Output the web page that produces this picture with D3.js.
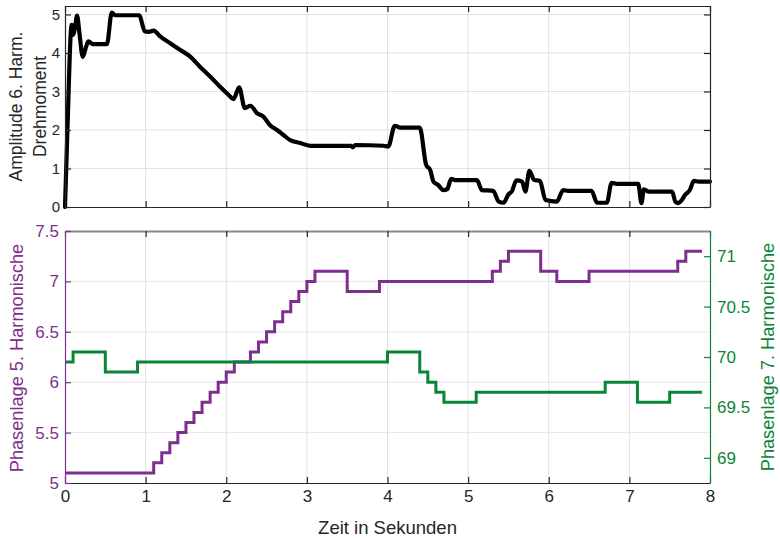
<!DOCTYPE html>
<html>
<head>
<meta charset="utf-8">
<script src="https://cdn.jsdelivr.net/npm/d3@7"></script>
<style>
  html, body { margin: 0; padding: 0; background: #ffffff; }
  svg { display: block; font-family: "Liberation Sans", Arial, Helvetica, sans-serif; }
</style>
</head>
<body>
<svg id="chart" width="780" height="538"></svg>
<script>
// Amplitude of the 6th torque harmonic over time
const ampTime = [0, 0.03, 0.083, 0.10, 0.12, 0.15, 0.18, 0.22, 0.26, 0.29, 0.35, 0.52, 0.58, 0.62, 0.64, 0.92,
  0.99, 1.04, 1.10, 1.18, 1.30, 1.43, 1.55, 1.67, 1.80, 1.92, 2.03, 2.09, 2.16, 2.23, 2.30, 2.38, 2.46,
  2.54, 2.63, 2.71, 2.79, 2.92, 3.04, 3.16, 3.55, 3.57, 3.60, 3.95, 4.01, 4.09, 4.16, 4.40, 4.48, 4.53,
  4.57, 4.63, 4.69, 4.74, 4.79, 4.84, 5.11, 5.17, 5.31, 5.38, 5.44, 5.50, 5.54, 5.60, 5.67, 5.71, 5.76,
  5.82, 5.89, 5.96, 6.10, 6.18, 6.24, 6.53, 6.60, 6.72, 6.78, 6.84, 7.11, 7.15, 7.18, 7.24, 7.53, 7.57,
  7.61, 7.65, 7.69, 7.75, 7.80, 7.86, 8.00];
const ampValue = [0, 2.0, 4.73, 4.47, 4.6, 4.97, 4.5, 3.9, 4.15, 4.3, 4.23, 4.23, 5.05, 4.98, 4.98, 4.98,
  4.56, 4.55, 4.58, 4.43, 4.26, 4.08, 3.91, 3.65, 3.39, 3.13, 2.91, 2.80, 3.11, 2.57, 2.63, 2.44, 2.35,
  2.13, 2.00, 1.87, 1.74, 1.66, 1.59, 1.59, 1.59, 1.55, 1.61, 1.59, 1.57, 2.11, 2.06, 2.06, 1.09, 0.96,
  0.66, 0.57, 0.44, 0.46, 0.73, 0.70, 0.70, 0.44, 0.42, 0.14, 0.11, 0.33, 0.40, 0.69, 0.66, 0.40, 0.94,
  0.70, 0.68, 0.18, 0.14, 0.44, 0.42, 0.42, 0.11, 0.11, 0.63, 0.60, 0.60, 0.10, 0.46, 0.40, 0.40, 0.14,
  0.10, 0.18, 0.31, 0.44, 0.68, 0.66, 0.66];

// Phase of the 5th harmonic (left axis), stepwise
const phase5Time  = [0, 1.1, 1.2, 1.3, 1.4, 1.5, 1.6, 1.7, 1.8, 1.9, 2.0, 2.1, 2.3, 2.4, 2.5, 2.6, 2.7, 2.8,
  2.9, 3.0, 3.1, 3.5, 3.9, 5.3, 5.4, 5.5, 5.9, 6.1, 6.5, 7.6, 7.7, 7.9];
const phase5Value = [5.1, 5.2, 5.3, 5.4, 5.5, 5.6, 5.7, 5.8, 5.9, 6.0, 6.1, 6.2, 6.3, 6.4, 6.5, 6.6, 6.7, 6.8,
  6.9, 7.0, 7.1, 6.9, 7.0, 7.1, 7.2, 7.3, 7.1, 7.0, 7.1, 7.2, 7.3, 7.3];

// Phase of the 7th harmonic (right axis), stepwise
const phase7Time  = [0, 0.1, 0.5, 0.9, 4.0, 4.4, 4.5, 4.6, 4.7, 5.1, 6.7, 7.1, 7.5, 7.9];
const phase7Value = [69.95, 70.05, 69.85, 69.95, 70.05, 69.85, 69.75, 69.65, 69.55, 69.65, 69.75, 69.55, 69.65, 69.65];

// Tick values
const timeTicks   = [0, 1, 2, 3, 4, 5, 6, 7, 8];
const ampTicks    = [0, 1, 2, 3, 4, 5];
const phase5Ticks = [5, 5.5, 6, 6.5, 7, 7.5];
const phase7Ticks = [69, 69.5, 70, 70.5, 71];

const axisDark = "#262626";
const purple = "#7E2F8E";
const green = "#0A8538";
const gridGrey = "#e1e1e1";
const gridPurple = "#ebe3ee";

const svg = d3.select("#chart");
const L = 65, R = 710;

const x = d3.scaleLinear().domain([0, 8]).range([L, R]);

function styleAxis(g, color, size) {
  g.select(".domain").attr("stroke", color).attr("stroke-width", 1.2);
  g.selectAll(".tick line").attr("stroke", color).attr("stroke-width", 1.2);
  g.selectAll(".tick text").attr("fill", color).style("font-size", size + "px");
}

// ---------- upper panel ----------
const T1 = 6, B1 = 207;
const yAmp = d3.scaleLinear().domain([0, 5.22]).range([B1, T1]);

const upperPanel = svg.append("g");
// grid
upperPanel.append("g").selectAll("line").data(timeTicks.slice(1, -1)).join("line")
  .attr("x1", d => x(d)).attr("x2", d => x(d)).attr("y1", T1).attr("y2", B1)
  .attr("stroke", gridGrey).attr("stroke-width", 1);
upperPanel.append("g").selectAll("line").data(ampTicks.slice(1)).join("line")
  .attr("x1", L).attr("x2", R).attr("y1", d => yAmp(d)).attr("y2", d => yAmp(d))
  .attr("stroke", gridGrey).attr("stroke-width", 1);

// data line
const ampData = ampTime.map((t, i) => [t, ampValue[i]]);
upperPanel.append("path").datum(ampData)
  .attr("fill", "none").attr("stroke", "#000").attr("stroke-width", 4.2)
  .attr("stroke-linejoin", "round").attr("stroke-linecap", "round")
  .attr("d", d3.line().x(d => x(d[0])).y(d => yAmp(d[1])).curve(d3.curveMonotoneX));

// axes of the upper panel (box with inward ticks)
upperPanel.append("g").attr("transform", `translate(${L},0)`)
  .call(d3.axisLeft(yAmp).tickValues(ampTicks).tickSize(-6).tickSizeOuter(0).tickPadding(5).tickFormat(d => d))
  .call(g => styleAxis(g, axisDark, 15));
upperPanel.append("g").attr("transform", `translate(${R},0)`)
  .call(d3.axisRight(yAmp).tickValues(ampTicks).tickSize(-6).tickSizeOuter(0).tickFormat(""))
  .call(g => styleAxis(g, axisDark, 15));
upperPanel.append("g").attr("transform", `translate(0,${B1})`)
  .call(d3.axisBottom(x).tickValues(timeTicks).tickSize(-6).tickSizeOuter(0).tickFormat(""))
  .call(g => styleAxis(g, axisDark, 15));
upperPanel.append("g").attr("transform", `translate(0,${T1})`)
  .call(d3.axisTop(x).tickValues(timeTicks).tickSize(-6).tickSizeOuter(0).tickFormat(""))
  .call(g => styleAxis(g, axisDark, 15));

const ampLabel = upperPanel.append("text")
  .attr("transform", `translate(0,${(T1 + B1) / 2}) rotate(-90)`)
  .attr("text-anchor", "middle").attr("fill", axisDark).style("font-size", "17.5px");
ampLabel.append("tspan").attr("x", 0).attr("y", 22).text("Amplitude 6. Harm.");
ampLabel.append("tspan").attr("x", 0).attr("y", 46).text("Drehmoment");

// ---------- lower panel ----------
const T2 = 231, B2 = 483;
const y5 = d3.scaleLinear().domain([5, 7.5]).range([B2, T2]);
const y7 = d3.scaleLinear().domain([68.75, 71.25]).range([B2, T2]);

const lowerPanel = svg.append("g");
lowerPanel.append("g").selectAll("line").data(timeTicks.slice(1, -1)).join("line")
  .attr("x1", d => x(d)).attr("x2", d => x(d)).attr("y1", T2).attr("y2", B2)
  .attr("stroke", gridGrey).attr("stroke-width", 1);
lowerPanel.append("g").selectAll("line").data(phase5Ticks.slice(1, -1)).join("line")
  .attr("x1", L).attr("x2", R).attr("y1", d => y5(d)).attr("y2", d => y5(d))
  .attr("stroke", gridPurple).attr("stroke-width", 1);

const p5Data = phase5Time.map((t, i) => [t, phase5Value[i]]);
const p7Data = phase7Time.map((t, i) => [t, phase7Value[i]]);

lowerPanel.append("path").datum(p5Data)
  .attr("fill", "none").attr("stroke", purple).attr("stroke-width", 3)
  .attr("d", d3.line().x(d => x(d[0])).y(d => y5(d[1])).curve(d3.curveStepAfter));
lowerPanel.append("path").datum(p7Data)
  .attr("fill", "none").attr("stroke", green).attr("stroke-width", 3)
  .attr("d", d3.line().x(d => x(d[0])).y(d => y7(d[1])).curve(d3.curveStepAfter));

// top border (grey) with ticks
lowerPanel.append("g").attr("transform", `translate(0,${T2})`)
  .call(d3.axisTop(x).tickValues(timeTicks).tickSize(-6).tickSizeOuter(0).tickFormat(""))
  .call(g => styleAxis(g, axisDark, 17))
  .call(g => g.select(".domain").attr("stroke", "#8a8a8a").attr("stroke-width", 2));
// bottom axis
lowerPanel.append("g").attr("transform", `translate(0,${B2})`)
  .call(d3.axisBottom(x).tickValues(timeTicks).tickSize(-6).tickSizeOuter(0).tickPadding(7).tickFormat(d => d))
  .call(g => styleAxis(g, axisDark, 17));
// left axis (5th harmonic)
lowerPanel.append("g").attr("transform", `translate(${L},0)`)
  .call(d3.axisLeft(y5).tickValues(phase5Ticks).tickSize(-6).tickSizeOuter(0).tickPadding(6).tickFormat(d => d))
  .call(g => styleAxis(g, purple, 17));
// right axis (7th harmonic)
lowerPanel.append("g").attr("transform", `translate(${R},0)`)
  .call(d3.axisRight(y7).tickValues(phase7Ticks).tickSize(-6).tickSizeOuter(0).tickPadding(7).tickFormat(d => d))
  .call(g => styleAxis(g, green, 17));

svg.append("text")
  .attr("transform", `translate(23,${(T2 + B2) / 2 + 1}) rotate(-90)`)
  .attr("text-anchor", "middle").attr("fill", purple).style("font-size", "18.2px")
  .text("Phasenlage 5. Harmonische");
svg.append("text")
  .attr("transform", `translate(774,${(T2 + B2) / 2}) rotate(-90)`)
  .attr("text-anchor", "middle").attr("fill", green).style("font-size", "18.2px")
  .text("Phasenlage 7. Harmonische");
svg.append("text")
  .attr("x", (L + R) / 2).attr("y", 534)
  .attr("text-anchor", "middle").attr("fill", axisDark).style("font-size", "18.5px")
  .text("Zeit in Sekunden");
</script>
</body>
</html>
